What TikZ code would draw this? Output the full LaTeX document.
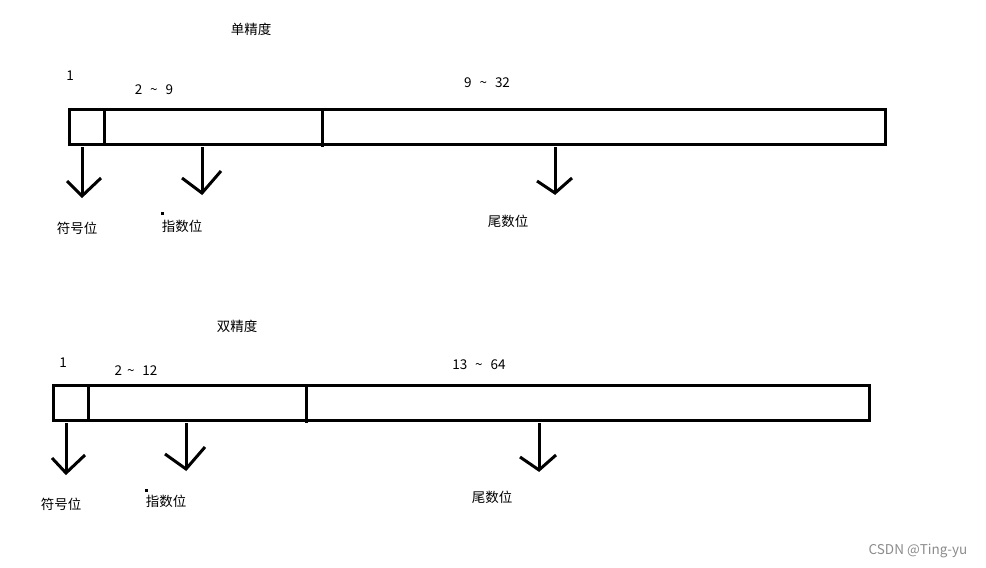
\documentclass[tikz,border=0pt]{standalone}
\usepackage{fontspec}
\setmainfont{Noto Sans CJK SC}
\newcommand{\tld}{\char"007E\relax}
\newcommand{\gp}{\hspace{8pt}}
\begin{document}
\begin{tikzpicture}[x=1pt,y=-1pt,
  lbl/.style={inner sep=0pt,font=\fontsize{13.5}{14}\selectfont},
  barline/.style={line width=3pt},
  arr/.style={line width=3pt,line join=miter}]
\useasboundingbox (0,0) rectangle (986,568);
\fill[white] (0,0) rectangle (986,568);
% ---------- single precision ----------
\node[lbl] (t1) at (251,29) {单精度};
\node[lbl] (a1) at (70,76) {1};
\node[lbl] (b1) at (154,90) {2\gp\tld\gp9};
\node[lbl] (c1) at (487,83) {9\gp\tld\gp32};
\draw[barline] (69,109) rectangle (885,144);
\draw[barline] (104,109) -- (104,144);
\draw[barline] (322,109) -- (322,147);
\draw[arr] (82,147) -- (82,196);
\draw[arr] (67,181) -- (82,196) -- (101,178);
\draw[arr] (202,147) -- (202,193);
\draw[arr] (182,178) -- (202,193) -- (221,171);
\draw[arr] (555,147) -- (555,193);
\draw[arr] (537,181) -- (555,193) -- (572,178);
\node[lbl] (s1) at (77,228) {符号位};
\node[lbl] (e1) at (182,226) {指数位};
\node[lbl] (m1) at (508,221) {尾数位};
\fill (160.5,211.5) rectangle (163.5,214.5);
% ---------- double precision ----------
\node[lbl] (t2) at (237,326) {双精度};
\node[lbl] (a2) at (63,363) {1};
\node[lbl] (b2) at (136,371) {2\hspace{5pt}\tld\gp12};
\node[lbl] (c2) at (479,365) {13\gp\tld\gp64};
\draw[barline] (53,385) rectangle (869,420);
\draw[barline] (88,385) -- (88,420);
\draw[barline] (306,385) -- (306,423);
\draw[arr] (66,423) -- (66,473);
\draw[arr] (52,458) -- (66,473) -- (85,455);
\draw[arr] (186,423) -- (186,469);
\draw[arr] (165,454) -- (186,469) -- (205,447);
\draw[arr] (539,423) -- (539,470);
\draw[arr] (520,457) -- (539,470) -- (556,455);
\node[lbl] (s2) at (61,504) {符号位};
\node[lbl] (e2) at (166,501) {指数位};
\node[lbl] (m2) at (492,497) {尾数位};
\fill (144.5,488.5) rectangle (147.5,491.5);
% ---------- watermark ----------
\node[inner sep=0pt,text=black!45,font=\fontsize{13.5}{14}\selectfont] (wm) at (918,551) {CSDN @Ting-yu};
\end{tikzpicture}
\end{document}
